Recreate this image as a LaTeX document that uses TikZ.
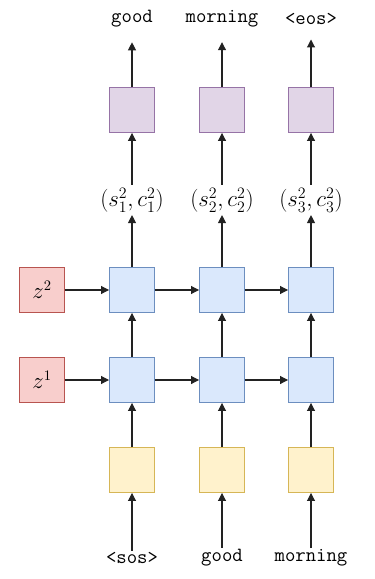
\documentclass[tikz,border=0pt]{standalone}
\usepackage{fontspec}
\usetikzlibrary{positioning,arrows.meta}
\definecolor{BlueFill}{HTML}{DAE8FC}
\definecolor{BlueLine}{HTML}{6C8EBF}
\definecolor{RedFill}{HTML}{F8CECC}
\definecolor{RedLine}{HTML}{B85450}
\definecolor{YellowFill}{HTML}{FFF2CC}
\definecolor{YellowLine}{HTML}{D6B656}
\definecolor{PurpleFill}{HTML}{E1D5E7}
\definecolor{PurpleLine}{HTML}{9673A6}
\definecolor{ArrowColor}{HTML}{222222}

\begin{document}
\begin{tikzpicture}[
    x=0.0265cm, y=-0.0265cm,
    cell/.style={rectangle, line width=0.8pt, minimum size=1.19cm, inner sep=0pt},
    rnncell/.style={cell, draw=BlueLine, fill=BlueFill},
    latentcell/.style={cell, draw=RedLine, fill=RedFill, font=\fontsize{16}{18}\selectfont},
    embedcell/.style={cell, draw=YellowLine, fill=YellowFill},
    outcell/.style={cell, draw=PurpleLine, fill=PurpleFill},
    word/.style={font=\fontsize{15.2}{17}\selectfont\ttfamily, inner sep=1pt},
    statelabel/.style={font=\fontsize{16.5}{18}\selectfont, inner sep=2pt},
    flow/.style={draw=ArrowColor, line width=0.8pt, -{Triangle[length=6pt,width=6pt]}}
]

\useasboundingbox (0,0) rectangle (374,579);

% inputs
\node[word] (in1) at (132,558) {<sos>};
\node[word] (in2) at (222,558) {good};
\node[word] (in3) at (311,558) {morning};

% embeddings
\node[embedcell] (emb1) at (132,470) {};
\node[embedcell] (emb2) at (222,470) {};
\node[embedcell] (emb3) at (311,470) {};

% latent codes
\node[latentcell] (za) at (42,380) {$z^1$};
\node[latentcell] (zb) at (42,290) {$z^2$};

% two recurrent layers
\node[rnncell] (hA1) at (132,380) {};
\node[rnncell] (hA2) at (222,380) {};
\node[rnncell] (hA3) at (311,380) {};
\node[rnncell] (hB1) at (132,290) {};
\node[rnncell] (hB2) at (222,290) {};
\node[rnncell] (hB3) at (311,290) {};

% states
\node[statelabel] (st1) at (132,200) {$(s_1^2,c_1^2)$};
\node[statelabel] (st2) at (222,200) {$(s_2^2,c_2^2)$};
\node[statelabel] (st3) at (311,200) {$(s_3^2,c_3^2)$};

% outputs
\node[outcell] (out1) at (132,110) {};
\node[outcell] (out2) at (222,110) {};
\node[outcell] (out3) at (311,110) {};

\node[word] (w1) at (132,19) {good};
\node[word] (w2) at (222,19) {morning};
\node[word] (w3) at (311,19) {<eos>};

\draw[flow] (in1) -- (emb1);
\draw[flow] (in2) -- (emb2);
\draw[flow] (in3) -- (emb3);

\draw[flow] (emb1) -- (hA1);
\draw[flow] (emb2) -- (hA2);
\draw[flow] (emb3) -- (hA3);

\draw[flow] (za) -- (hA1);
\draw[flow] (hA1) -- (hA2);
\draw[flow] (hA2) -- (hA3);
\draw[flow] (zb) -- (hB1);
\draw[flow] (hB1) -- (hB2);
\draw[flow] (hB2) -- (hB3);

\draw[flow] (hA1) -- (hB1);
\draw[flow] (hA2) -- (hB2);
\draw[flow] (hA3) -- (hB3);

\draw[flow] (hB1) -- (st1);
\draw[flow] (hB2) -- (st2);
\draw[flow] (hB3) -- (st3);

\draw[flow] (st1) -- (out1);
\draw[flow] (st2) -- (out2);
\draw[flow] (st3) -- (out3);

\draw[flow, shorten >=10pt] (out1) -- (w1);
\draw[flow, shorten >=10pt] (out2) -- (w2);
\draw[flow, shorten >=10pt] (out3) -- (w3);

\end{tikzpicture}
\end{document}
